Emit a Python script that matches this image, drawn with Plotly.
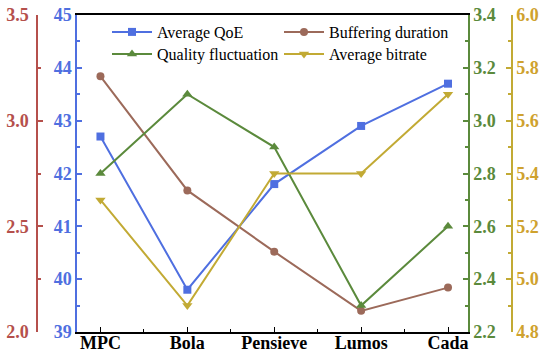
import plotly.graph_objects as go

categories = ["MPC", "Bola", "Pensieve", "Lumos", "Cada"]
avg_qoe = [42.7, 39.8, 41.8, 42.9, 43.7]
buffering = [3.21, 2.67, 2.38, 2.10, 2.21]
quality_fluct = [2.8, 3.1, 2.9, 2.3, 2.6]
avg_bitrate = [5.3, 4.9, 5.4, 5.4, 5.7]

C_BLUE = "#4F6FE0"
C_BROWN = "#9C6A5A"
C_RED = "#B5504C"
C_GREEN = "#5B8A3C"
C_YELLOW = "#C2AA34"
C_YELLOW_TXT = "#CFA22E"

x = list(range(len(categories)))
FONT = "Liberation Serif, Times New Roman, Times, serif"

fig = go.Figure()
fig.add_trace(go.Scatter(x=x, y=avg_qoe, name="Average QoE", mode="lines+markers",
                         line=dict(color=C_BLUE, width=2), legend="legend",
                         marker=dict(symbol="square", size=8, color=C_BLUE), yaxis="y"))
fig.add_trace(go.Scatter(x=x, y=quality_fluct, name="Quality fluctuation", mode="lines+markers",
                         line=dict(color=C_GREEN, width=2), legend="legend2",
                         marker=dict(symbol="triangle-up", size=9, color=C_GREEN), yaxis="y3"))
fig.add_trace(go.Scatter(x=x, y=buffering, name="Buffering duration", mode="lines+markers",
                         line=dict(color=C_BROWN, width=2), legend="legend3",
                         marker=dict(symbol="circle", size=8, color=C_BROWN), yaxis="y2"))
fig.add_trace(go.Scatter(x=x, y=avg_bitrate, name="Average bitrate", mode="lines+markers",
                         line=dict(color=C_YELLOW, width=2), legend="legend4",
                         marker=dict(symbol="triangle-down", size=9, color=C_YELLOW), yaxis="y4"))

def tickfont(c):
    return dict(family=FONT, size=18, color=c, weight="bold")

def yax(rng, dtick, minor, color, txtcolor, fmt, **kw):
    d = dict(range=rng, dtick=dtick, tick0=rng[0], tickformat=fmt, showgrid=False, zeroline=False,
             showline=True, linecolor=color, linewidth=1.5, ticks="inside", ticklen=5,
             tickcolor=color, tickwidth=1.5, tickfont=tickfont(txtcolor),
             minor=dict(dtick=minor, tick0=rng[0], ticks="inside", ticklen=3, tickcolor=color,
                        showgrid=False))
    d.update(kw)
    return d

legend_common = dict(orientation="v", xanchor="left", yanchor="top", bgcolor="rgba(0,0,0,0)",
                     font=dict(family=FONT, size=16, color="black"), itemwidth=40,
                     tracegroupgap=0)

fig.update_layout(
    width=550, height=360,
    margin=dict(l=0, r=0, t=15, b=28, autoexpand=False),
    paper_bgcolor="white", plot_bgcolor="white",
    font=dict(family=FONT),
    showlegend=True,
    xaxis=dict(domain=[77 / 550, 468 / 550], range=[-0.27, 4.23],
               tickmode="array", tickvals=x, ticktext=categories,
               showline=True, linecolor="black", linewidth=1.5, mirror=True,
               ticks="inside", ticklen=5, tickcolor="black", showgrid=False, zeroline=False,
               ticklabelstandoff=-6,
               tickfont=dict(family=FONT, size=18, color="black", weight="bold"),
               minor=dict(dtick=0.5, tick0=0, ticks="inside", ticklen=3, tickcolor="black")),
    yaxis=yax([39, 45], 1, 0.5, C_BLUE, C_BLUE, "d", anchor="x", side="left"),
    yaxis2=yax([2.0, 3.5], 0.5, 0.25, C_RED, C_RED, ".1f", overlaying="y", anchor="free",
               side="left", position=37 / 550, ticklabelstandoff=4),
    yaxis3=yax([2.2, 3.4], 0.2, 0.1, C_GREEN, C_GREEN, ".1f", overlaying="y", anchor="x",
               side="right"),
    yaxis4=yax([4.8, 6.0], 0.2, 0.1, C_YELLOW, C_YELLOW_TXT, ".1f", overlaying="y", anchor="free",
               side="right", position=512 / 550),
    legend=dict(x=107 / 550, y=1.0, **legend_common),
    legend2=dict(x=107 / 550, y=0.9306, **legend_common),
    legend3=dict(x=279 / 550, y=1.0, **legend_common),
    legend4=dict(x=279 / 550, y=0.9306, **legend_common),
)

fig.write_html("out.html", config={"displayModeBar": False},
               post_script="document.body.style.margin='0';document.body.style.overflow='hidden';")
